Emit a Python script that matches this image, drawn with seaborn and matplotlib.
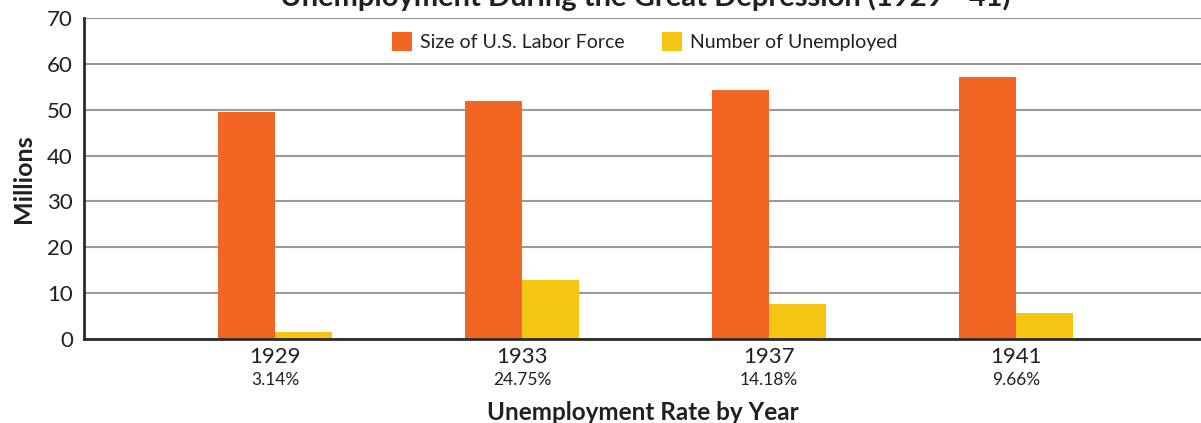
import matplotlib
matplotlib.use("Agg")
import matplotlib.pyplot as plt
import matplotlib.transforms as mtransforms
from matplotlib import font_manager
from matplotlib.patches import Patch
import pandas as pd
import seaborn as sns

years = ["1929", "1933", "1937", "1941"]
rates = ["3.14%", "24.75%", "14.18%", "9.66%"]
labor_force = [49.5, 51.9, 54.3, 57.1]
unemployed = [1.5, 12.9, 7.6, 5.6]
series_names = ["Size of U.S. Labor Force", "Number of Unemployed"]
colors = ["#F26522", "#F4C613"]

sns.set_theme(style="white")
available = {f.name for f in font_manager.fontManager.ttflist}
fam = "Liberation Sans Narrow" if "Liberation Sans Narrow" in available else "Lato"
plt.rcParams["font.family"] = [fam, "DejaVu Sans"]
TXT = "#231F20"

df = pd.DataFrame({
    "Year": years * 2,
    "Value": labor_force + unemployed,
    "Series": [series_names[0]] * 4 + [series_names[1]] * 4,
})

fig = plt.figure(figsize=(12.01, 4.23), dpi=100)
ax = fig.add_axes([84 / 1201, 84 / 423, 1 - 84 / 1201, (339 - 18) / 423])

sns.barplot(data=df, x="Year", y="Value", hue="Series", palette=colors,
            width=0.46, dodge=True, saturation=1, ax=ax, legend=False,
            edgecolor="none", linewidth=0)

ax.set_ylim(0, 70)
ax.set_xlim(-0.773, 3.749)
ax.set_yticks(range(0, 71, 10))
ax.yaxis.grid(True, color="#9A9A9A", linewidth=1.5)
ax.set_axisbelow(True)
for s in ["top", "right"]:
    ax.spines[s].set_visible(False)
for s in ["left", "bottom"]:
    ax.spines[s].set_color("#2B2B2B")
    ax.spines[s].set_linewidth(2)
ax.tick_params(axis="both", length=0, colors=TXT)
ax.tick_params(axis="y", labelsize=16, pad=8)
ax.tick_params(axis="x", labelsize=16, pad=6)
ax.set_xticks(range(len(years)))
ax.set_xticklabels(years)

trans = mtransforms.blended_transform_factory(ax.transData, ax.transAxes)
for i, r in enumerate(rates):
    ax.annotate(r, xy=(i, 0), xycoords=trans, xytext=(0, -29.5),
                textcoords="offset points", ha="center", va="center",
                fontsize=12.5, color=TXT)

ax.set_ylabel("Millions", fontsize=18, fontweight="bold", color=TXT, labelpad=9)
ax.set_xlabel("Unemployment Rate by Year", fontsize=17.5, fontweight="bold",
              color=TXT, labelpad=24)

handles = [Patch(facecolor=c, edgecolor="none") for c in colors]
ax.legend(handles, series_names, loc="upper center", bbox_to_anchor=(0.502, 1.01),
          ncol=2, frameon=False, fontsize=14, handlelength=1.05, handleheight=1.1,
          columnspacing=1.9, handletextpad=0.4, labelcolor=TXT)

fig.text(645 / 1201, 1 - 6 / 423, "Unemployment During the Great Depression (1929 - 41)",
         ha="center", va="baseline", fontsize=21, fontweight="bold", color=TXT)

fig.savefig("out.png", dpi=100)
